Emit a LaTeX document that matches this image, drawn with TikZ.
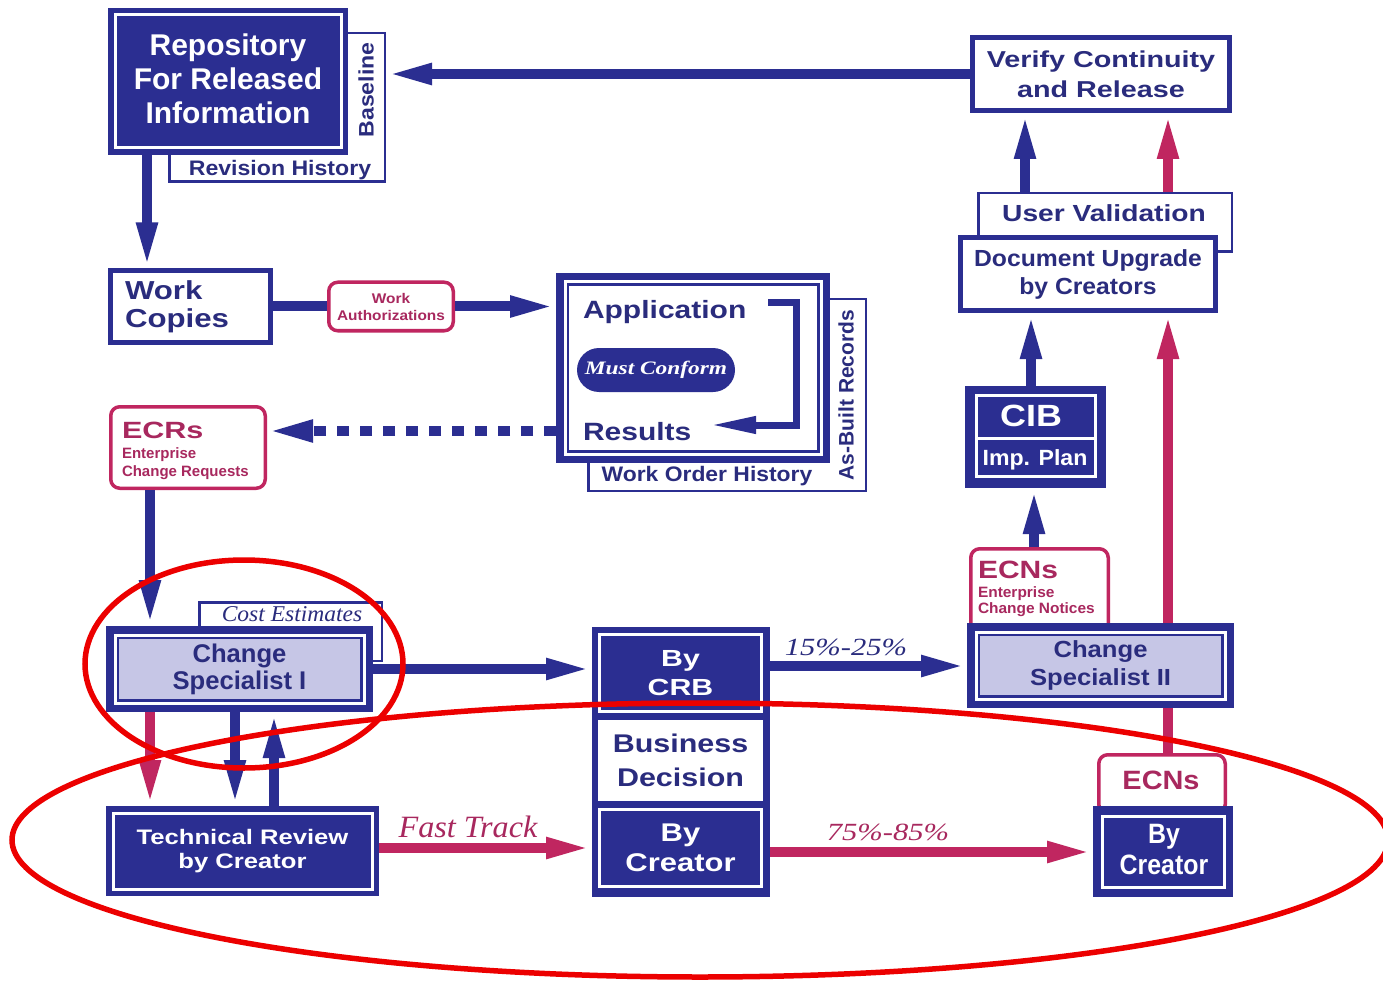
\documentclass[tikz,border=0pt]{standalone}
\usepackage{fontspec}
\setmainfont{Liberation Sans}
\newfontfamily\tms{Liberation Serif}
\usetikzlibrary{arrows.meta}
\definecolor{navy}{RGB}{43,46,145}
\definecolor{navytxt}{RGB}{42,44,125}
\definecolor{mag}{RGB}{192,38,96}
\definecolor{magtxt}{RGB}{168,40,94}
\definecolor{lav}{RGB}{198,198,230}
\definecolor{ring}{RGB}{236,0,0}
% size, baselineskip, horizontal stretch
\newcommand\tf[3]{\fontsize{#1pt}{#2pt}\selectfont\addfontfeatures{FakeStretch=#3}}

\begin{document}
\begin{tikzpicture}[x=1pt, y=-1pt,
  every node/.style={inner sep=0pt, outer sep=0pt},
  thinbox/.style={draw=navy, line width=2.5pt, fill=white, outer sep=1.25pt},
  whitebox/.style={draw=navy, line width=5pt, fill=white, outer sep=2.5pt, text=navytxt, align=center},
  solidblk/.style={fill=navy},
  whiteline/.style={draw=white, line width=3pt, text=white, align=center},
  dblline/.style={draw=navy, line width=2.5pt, double=white, double distance=3pt, text=navytxt, align=center},
  magbox/.style={draw=mag, line width=3.5pt, fill=white, rounded corners=9pt, outer sep=1.75pt},
  thick arrow/.style={line width=10pt, -{Triangle[length=46pt, width=19pt]}},
  navyarrow/.style={thick arrow, draw=navy},
  magarrow/.style={thick arrow, draw=mag},
  navylbl/.style={text=navytxt},
  maglbl/.style={text=magtxt},
]
\fill[white] (0,0) rectangle (1383,981);
\useasboundingbox (0,0) rectangle (1383,981);
\clip (0,0) rectangle (1383,981);

% ---------- repository with baseline / revision history tab
\node[thinbox, minimum width=215.5pt, minimum height=148.5pt] (basebox) at (277,107.5) {};
\node[navylbl, rotate=90, font=\bfseries\tf{21}{24}{1.1}] (baselbl) at (366,90) {Baseline};
\node[navylbl, font=\bfseries\tf{21}{24}{1.1}] (revlbl) at (280,170) {Revision History};
\node[solidblk, minimum width=240pt, minimum height=147pt] (repo) at (228,81.5) {};
\node[whiteline, minimum width=226pt, minimum height=133pt] (repoin) at (repo.center) {};
\node[text=white, align=center, font=\bfseries\tf{30}{34}{1}] (repotxt) at (228,78.5) {Repository\\For Released\\Information};

% ---------- verify continuity
\node[whitebox, minimum width=257pt, minimum height=73pt, font=\bfseries\tf{23}{30}{1.25}] (verify) at (1101,74) {Verify Continuity\\and Release};
\draw[navyarrow] (verify.west) -- (verify.west -| basebox.east);

% ---------- work copies and authorizations
\node[whitebox, minimum width=160pt, minimum height=71pt] (wc) at (190.5,306.5) {};
\node[navylbl, anchor=west, align=left, font=\bfseries\tf{26}{28}{1.2}] (wctxt) at (125,307) {Work\\Copies};
\coordinate (xrep) at (147,0);
\draw[navyarrow] (repo.south -| xrep) -- (wc.north -| xrep);
\node[magbox, minimum width=124.5pt, minimum height=48.5pt, maglbl, align=center, font=\bfseries\tf{14}{17}{1.1}] (wa) at (391,306.5) {Work\\Authorizations};

% ---------- application / results
\node[thinbox, minimum width=277.5pt, minimum height=191.5pt] (asbox) at (727,395) {};
\node[navylbl, rotate=90, font=\bfseries\tf{21}{24}{1}] (asbuilt) at (846,395) {As-Built Records};
\node[navylbl, font=\bfseries\tf{21}{24}{1.09}] (woh) at (707,476) {Work Order History};
\node[solidblk, minimum width=274pt, minimum height=190pt] (app) at (693,368) {};
\node[dblline, fill=white, minimum width=256pt, minimum height=172pt] (appin) at (app.center) {};
\node[navylbl, anchor=base west, font=\bfseries\tf{25}{28}{1.2}] (apptxt) at (583,319) {Application};
\node[navylbl, anchor=base west, font=\bfseries\tf{25}{28}{1.2}] (restxt) at (583,440) {Results};
\node[fill=navy, rounded corners=22pt, minimum width=158pt, minimum height=44pt, text=white, font=\tms\bfseries\itshape\tf{19}{22}{1.23}] (conform) at (656,370) {Must Conform};
\coordinate (brA) at (768,302.5);
\coordinate (brB) at (796,302.5);
\coordinate (brC) at (796,425);
\coordinate (brD) at (710,425);
\draw[navy, line width=7pt, -{Triangle[length=46pt, width=16pt]}] (brA) -- (brB) -- (brC) -- (brD);

\draw[navy, line width=10pt] (wc.east) -- (wa.west);
\draw[navyarrow] (wa.east) -- (wa.east -| app.west);

% ---------- enterprise change requests
\node[magbox, minimum width=154.5pt, minimum height=81.5pt] (ecr) at (188,447.5) {};
\node[maglbl, anchor=base west, font=\bfseries\tf{23.5}{26}{1.3}] (ecrt) at (122,438) {ECRs};
\node[maglbl, anchor=base west, font=\bfseries\tf{15}{17}{1}] (ecre) at (122,458.5) {Enterprise};
\node[maglbl, anchor=base west, font=\bfseries\tf{15}{17}{1}] (ecrc) at (122,476) {Change Requests};
\coordinate (ydot) at (0,431);
\draw[navy, line width=10pt, dash pattern=on 12pt off 11pt, -{Triangle[length=46pt, width=20pt]}] (app.west |- ydot) -- (ecr.east |- ydot);

% ---------- change specialist I and technical review
\node[thinbox, minimum width=182.5pt, minimum height=58.5pt] (costbox) at (290.5,631.5) {};
\node[navylbl, font=\tms\itshape\tf{22.6}{25}{1.04}] (cost) at (292,614) {Cost Estimates};
\node[solidblk, minimum width=267pt, minimum height=86pt] (cs1) at (239.5,669) {};
\node[dblline, fill=lav, minimum width=249pt, minimum height=68pt, font=\bfseries\tf{25.6}{27}{1}] (cs1in) at (cs1.center) {Change\\Specialist I};
\node[solidblk, minimum width=273pt, minimum height=90pt] (tr) at (242.5,851) {};
\node[whiteline, minimum width=259pt, minimum height=76pt, font=\bfseries\tf{21}{24}{1.22}] (trin) at (tr.center) {Technical Review\\by Creator};

\coordinate (xecr) at (150,0);
\draw[navyarrow] (ecr.south -| xecr) -- (cs1.north -| xecr);
\coordinate (xm) at (150,0);
\coordinate (xd) at (235,0);
\coordinate (xu) at (274,0);
\draw[magarrow] (cs1.south -| xm) -- (tr.north -| xm);
\draw[navyarrow] (cs1.south -| xd) -- (tr.north -| xd);
\draw[navyarrow] (tr.north -| xu) -- (cs1.south -| xu);

% ---------- business decision column
\node[solidblk, minimum width=178pt, minimum height=270pt] (dec) at (681,762) {};
\node[whiteline, minimum width=162pt, minimum height=77pt, font=\bfseries\tf{23.3}{29}{1.3}] (crb) at (680.5,673) {By\\CRB};
\node[fill=white, minimum width=165pt, minimum height=81pt, navylbl, align=center, font=\bfseries\tf{25.6}{34}{1.19}] (bd) at (680.5,760.5) {Business\\Decision};
\node[whiteline, minimum width=162pt, minimum height=77pt, font=\bfseries\tf{25.6}{30}{1.21}] (bcm) at (680.5,848) {By\\Creator};

\draw[navyarrow] (cs1.east) -- (cs1.east -| dec.west);
\coordinate (yft) at (0,848);
\draw[magarrow] (tr.east |- yft) -- (dec.west |- yft);
\node[maglbl, anchor=base, font=\tms\itshape\tf{31}{34}{1.04}] (ftl) at (468,837) {Fast Track};

% ---------- right column
\node[thinbox, minimum width=253.5pt, minimum height=58.5pt] (uv) at (1105,222.5) {};
\node[navylbl, font=\bfseries\tf{23.3}{26}{1.21}] (uvt) at (1104,213) {User Validation};
\node[whitebox, minimum width=255pt, minimum height=73pt, font=\bfseries\tf{23.3}{28}{1.06}] (doc) at (1088,274) {Document Upgrade\\by Creators};
\coordinate (xuvn) at (1025,0);
\coordinate (xuvm) at (1168,0);
\draw[navyarrow] (uv.north -| xuvn) -- (verify.south -| xuvn);
\draw[magarrow] (uv.north -| xuvm) -- (verify.south -| xuvm);

\node[solidblk, minimum width=141pt, minimum height=102pt] (cib) at (1035.5,437) {};
\node[whiteline, minimum width=119pt, minimum height=42.5pt] (cibtop) at (1036,416.75) {};
\node[whiteline, minimum width=119pt, minimum height=38.5pt] (cibbot) at (1036,457.25) {};
\node[text=white, font=\bfseries\tf{30.7}{32}{1.17}] (cibtxt) at (1031,416) {CIB};
\node[text=white, font=\bfseries\tf{22}{24}{1.05}] (imptxt) at (1035,460) {Imp. Plan};

\node[magbox, minimum width=137.5pt, minimum height=89.5pt] (ecna) at (1039.5,593.5) {};
\node[maglbl, anchor=base west, font=\bfseries\tf{25}{28}{1.2}] (ecnat) at (978,578) {ECNs};
\node[maglbl, anchor=base west, font=\bfseries\tf{15}{17}{1.03}] (ecnae) at (978,597) {Enterprise};
\node[maglbl, anchor=base west, font=\bfseries\tf{15}{17}{1.03}] (ecnac) at (978,613) {Change Notices};

\node[magbox, minimum width=126.5pt, minimum height=58.5pt] (ecnb) at (1162,784) {};
\node[maglbl, anchor=base, font=\bfseries\tf{26.5}{28}{1.09}] (ecnbt) at (1161,789) {ECNs};
\draw[magarrow] (ecnb.north -| xuvm) -- (doc.south -| xuvm);

\node[solidblk, minimum width=267pt, minimum height=85pt] (cs2) at (1100.5,665.5) {};
\node[dblline, fill=lav, minimum width=249pt, minimum height=67pt, font=\bfseries\tf{23.3}{28}{1.1}] (cs2in) at (cs2.center) {Change\\Specialist II};

\node[solidblk, minimum width=140pt, minimum height=91pt] (bcr) at (1163,851.5) {};
\node[whiteline, minimum width=122pt, minimum height=71pt] (bcrin) at (1163.5,852) {};
\node[text=white, align=center, font=\bfseries\tf{28}{31}{0.89}] (bcrtxt) at (1164,849.5) {By\\Creator};

\coordinate (xecn) at (1034,0);
\draw[navyarrow] (ecna.north -| xecn) -- (cib.south -| xecn);
\coordinate (xcib) at (1031,0);
\draw[navyarrow] (cib.north -| xcib) -- (doc.south -| xcib);

\coordinate (ycrb) at (0,666);
\draw[navyarrow] (dec.east |- ycrb) -- (cs2.west |- ycrb);
\node[navylbl, anchor=base, font=\tms\itshape\tf{24.7}{28}{1.24}] (p15) at (846,655) {15\%-25\%};
\coordinate (y75) at (0,852);
\draw[magarrow] (dec.east |- y75) -- (bcr.west |- y75);
\node[maglbl, anchor=base, font=\tms\itshape\tf{24.7}{28}{1.24}] (p75) at (888,840) {75\%-85\%};

% ---------- highlight rings
\draw[ring, line width=5.5pt] (244,664) ellipse [x radius=159pt, y radius=104pt];
\draw[ring, line width=5.5pt] (700,840) ellipse [x radius=688pt, y radius=137pt];
\end{tikzpicture}
\end{document}
